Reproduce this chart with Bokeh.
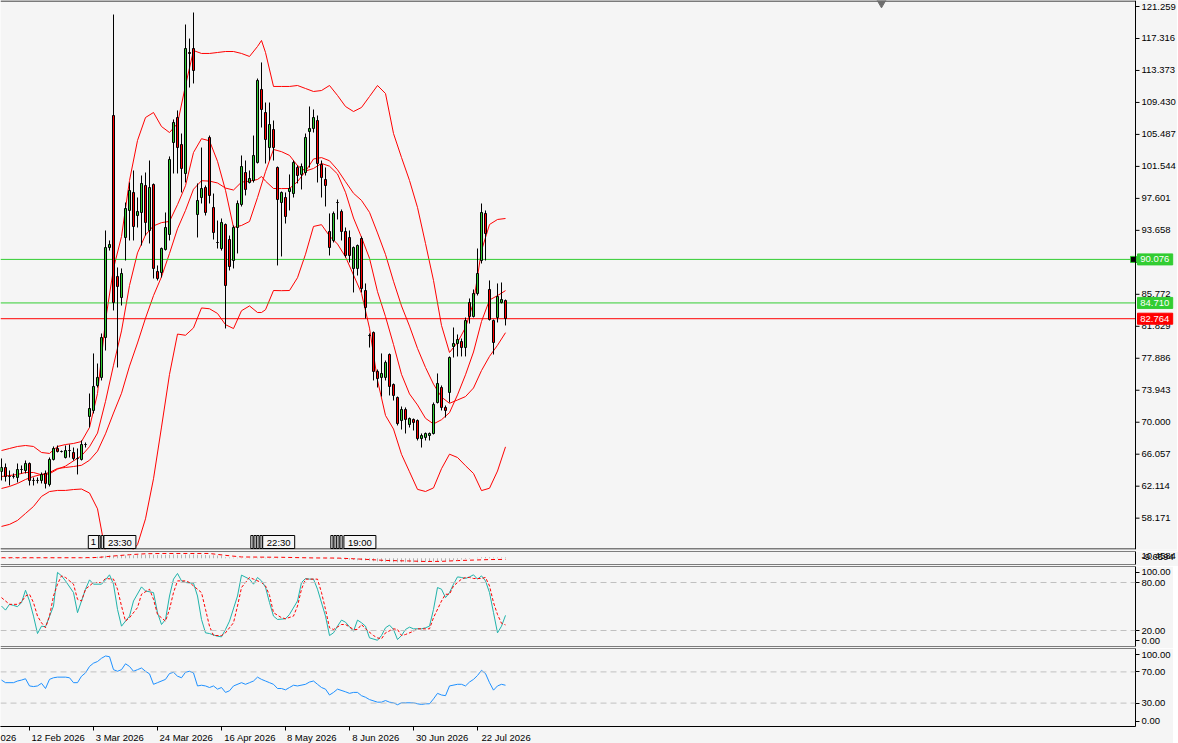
from bokeh.plotting import figure
from bokeh.models import Range1d, FixedTicker, Span, ColumnDataSource
from bokeh.layouts import column
from bokeh.embed import file_html
from bokeh.resources import INLINE
from bokeh.core.properties import value

# ---------------- candles ----------------
opens = [63.93, 64.42, 63.31, 63.31, 63.19, 64.17, 64.05, 64.91, 62.82, 62.82,
         62.82, 63.68, 62.32, 65.41, 66.76, 66.39, 65.65, 66.51, 66.27, 65.53,
         65.41, 67.25, 70.71, 71.45, 74.53, 75.52, 80.45, 91.54, 107.82, 87.97,
         85.38, 92.78, 96.11, 98.33, 95.49, 95.86, 99.19, 93.64, 99.31, 88.59,
         88.46, 91.30, 93.15, 104.49, 107.57, 104.24, 100.67, 115.59, 116.08, 95.61,
         97.71, 98.94, 105.11, 96.48, 92.16, 91.42, 94.38, 92.53, 89.94, 94.01,
         96.85, 100.79, 99.56, 99.81, 102.03, 111.03, 108.19, 103.87, 106.09, 101.41,
         97.09, 97.71, 98.45, 98.20, 101.41, 100.55, 100.79, 105.85, 106.22, 107.20,
         101.78, 99.93, 93.52, 92.41, 97.09, 95.98, 93.52, 92.78, 88.96, 88.96,
         92.65, 86.24, 80.69, 81.06, 76.26, 75.52, 75.52, 78.35, 74.65, 73.05,
         70.21, 71.57, 69.72, 70.34, 70.21, 67.99, 68.12, 68.36, 68.61, 72.43,
         74.28, 71.82, 73.67, 79.34, 79.71, 79.95, 79.21, 84.76, 83.04, 85.87,
         89.94, 95.74, 86.37, 82.54, 82.91, 84.76, 85.01]
highs = [65.53, 64.91, 64.05, 63.68, 64.91, 64.67, 65.28, 65.04, 63.19, 63.19,
         63.80, 64.05, 65.65, 67.01, 67.13, 66.51, 67.13, 67.25, 66.88, 66.76,
         67.75, 67.50, 73.54, 78.48, 77.24, 80.94, 93.64, 92.41, 120.27, 89.08,
         88.96, 97.09, 99.56, 101.04, 97.71, 100.42, 100.79, 102.27, 99.44, 89.33,
         91.54, 95.86, 102.77, 107.33, 108.44, 105.60, 119.04, 117.31, 120.52, 99.44,
         103.87, 99.19, 105.35, 98.20, 94.87, 95.12, 94.50, 93.02, 94.26, 97.34,
         102.89, 102.27, 101.04, 105.35, 112.38, 114.36, 109.42, 109.42, 107.20, 101.53,
         98.45, 98.33, 100.55, 102.27, 101.66, 101.90, 105.60, 108.93, 108.56, 107.82,
         102.27, 101.41, 95.74, 95.98, 97.46, 96.23, 94.01, 93.64, 91.67, 91.91,
         92.90, 87.11, 80.94, 81.19, 76.50, 78.48, 77.61, 78.48, 74.78, 73.17,
         71.94, 71.82, 70.58, 70.46, 70.34, 68.61, 68.73, 68.73, 72.43, 76.01,
         74.53, 72.06, 78.11, 81.68, 80.82, 80.32, 82.91, 85.26, 86.37, 91.42,
         96.97, 96.11, 87.48, 82.67, 87.11, 87.23, 85.13]
lows = [62.82, 62.69, 62.20, 63.06, 62.57, 63.68, 63.68, 62.20, 62.20, 62.45,
        62.45, 61.83, 62.08, 65.28, 66.27, 66.27, 65.53, 65.65, 65.28, 63.56,
        65.28, 66.88, 69.35, 71.08, 74.28, 75.15, 78.84, 91.17, 83.78, 76.75,
        84.39, 89.94, 92.41, 92.41, 94.01, 91.79, 93.02, 92.04, 87.72, 87.48,
        87.85, 91.17, 92.41, 100.67, 100.67, 98.33, 99.56, 111.27, 111.77, 92.78,
        96.97, 95.49, 96.97, 92.53, 91.42, 91.17, 81.56, 88.71, 88.96, 90.81,
        96.60, 97.96, 99.44, 99.56, 101.90, 106.34, 101.90, 102.27, 102.27, 89.33,
        90.44, 94.50, 96.11, 97.71, 99.44, 98.70, 100.42, 101.41, 105.72, 99.56,
        97.71, 96.60, 90.56, 92.16, 95.00, 92.41, 90.31, 89.70, 86.00, 88.09,
        86.00, 82.79, 79.21, 75.15, 74.28, 73.17, 75.15, 73.30, 72.68, 69.60,
        69.10, 68.61, 69.35, 68.98, 67.75, 66.88, 67.75, 67.75, 68.49, 72.31,
        71.45, 70.58, 72.43, 77.98, 78.11, 78.11, 78.11, 82.17, 82.91, 85.63,
        89.57, 89.94, 82.54, 78.35, 82.30, 84.64, 81.93]
closes = [64.42, 63.31, 63.31, 63.31, 64.17, 64.17, 64.91, 62.82, 62.82, 62.82,
          63.56, 62.45, 65.41, 66.76, 66.39, 66.39, 66.51, 66.51, 65.53, 65.53,
          67.25, 67.25, 71.69, 74.41, 75.52, 80.45, 91.54, 91.91, 84.76, 86.74,
          88.34, 96.35, 98.57, 94.13, 95.98, 99.44, 94.63, 98.94, 88.96, 87.72,
          91.42, 94.01, 102.40, 106.96, 103.87, 101.29, 116.08, 115.47, 113.37, 97.34,
          98.82, 95.86, 97.96, 93.39, 92.16, 94.63, 86.86, 89.20, 94.01, 96.97,
          101.53, 98.70, 100.05, 102.89, 112.14, 108.56, 104.86, 106.71, 103.87, 97.46,
          98.33, 95.37, 98.82, 102.03, 100.42, 101.53, 105.11, 106.22, 107.57, 101.90,
          100.18, 99.19, 91.54, 95.74, 97.09, 93.52, 90.56, 90.56, 91.54, 91.79,
          86.49, 84.15, 80.69, 76.26, 75.39, 76.01, 77.37, 74.41, 73.30, 69.84,
          71.57, 70.34, 70.46, 69.97, 67.99, 68.36, 68.61, 68.61, 72.19, 74.78,
          71.82, 71.45, 77.98, 79.71, 80.20, 79.21, 82.54, 83.04, 85.87, 88.34,
          95.86, 93.27, 82.67, 79.83, 85.50, 85.13, 82.79]

# ---------------- Bollinger bands (20) and fast MA (10) ----------------
band_idx = list(range(0, 65, 2)) + [65] + list(range(66, 127, 2))
bb_upper = [66.51, 66.76, 67.01, 67.13, 67.01, 66.27, 66.15, 67.01, 67.25, 67.38,
            67.62, 69.35, 73.54, 82.54, 88.96, 92.90, 99.81, 104.74, 107.57, 108.19,
            106.46, 105.72, 106.83, 111.52, 115.83, 115.47, 115.47, 115.59, 115.71, 115.71,
            115.47, 115.10, 116.33, 117.07, 115.59, 111.40, 111.40, 111.40, 111.52, 111.15,
            110.78, 110.90, 111.52, 110.29, 108.93, 108.31, 108.81, 110.16, 111.52, 110.53,
            105.60, 102.64, 99.81, 96.48, 92.04, 87.48, 81.93, 78.60, 79.83, 81.68,
            84.76, 91.17, 94.38, 95.00, 95.12]
bb_middle = [61.83, 62.08, 62.45, 62.94, 63.31, 63.56, 63.80, 64.30, 64.42, 64.54,
             64.69, 65.31, 66.43, 68.57, 71.13, 73.57, 76.92, 79.77, 82.83, 85.61,
             87.93, 90.81, 93.85, 96.12, 98.73, 99.78, 99.73, 99.50, 98.87, 98.63,
             99.61, 99.72, 99.93, 100.30, 99.73, 98.82, 98.81, 98.82, 99.67, 100.93,
             102.46, 102.63, 102.24, 101.13, 99.66, 98.23, 97.35, 95.88, 93.34, 90.68,
             87.38, 84.34, 81.85, 79.10, 76.75, 74.69, 73.10, 72.33, 72.74, 73.16,
             74.22, 76.37, 78.12, 79.49, 81.04]
bb_lower = [57.15, 57.40, 57.89, 58.75, 59.61, 60.85, 61.45, 61.59, 61.59, 61.70,
            61.76, 61.27, 59.32, 54.00, 53.00, 52.90, 53.80, 54.90, 58.09, 63.03,
            69.40, 75.90, 80.87, 80.72, 81.63, 84.09, 83.99, 83.41, 82.03, 81.55,
            83.75, 84.34, 83.53, 83.53, 83.87, 86.24, 86.22, 86.24, 87.82, 90.71,
            94.14, 94.36, 92.96, 91.97, 90.39, 88.15, 85.89, 81.60, 75.16, 70.83,
            69.16, 66.04, 63.89, 61.72, 61.46, 61.90, 64.27, 66.06, 65.65, 64.64,
            63.68, 61.57, 61.86, 63.98, 66.96]
ma_idx = list(range(0, 127, 2))
ma_fast = [63.31, 63.43, 63.56, 63.80, 63.80, 63.52, 63.64, 64.21, 64.59, 65.23,
           65.87, 66.98, 68.66, 72.57, 77.03, 81.26, 86.86, 90.88, 93.09, 94.21,
           94.61, 94.76, 96.83, 99.16, 103.26, 104.96, 104.70, 102.17, 98.59, 94.02,
           94.26, 94.75, 97.70, 100.89, 103.63, 103.36, 102.90, 101.64, 100.97, 101.29,
           101.91, 101.57, 100.61, 98.35, 95.18, 92.80, 90.21, 86.10, 83.02, 79.58,
           75.90, 73.49, 72.13, 70.48, 69.79, 70.31, 71.18, 73.37, 75.85, 78.66,
           82.42, 85.07, 85.61, 86.23]

# ---------------- price scale and levels ----------------
price_ticks = [121.259, 117.316, 113.373, 109.430, 105.487, 101.544, 97.601, 93.658,
               89.715, 85.772, 81.829, 77.886, 73.943, 70.000, 66.057, 62.114, 58.171]
price_tick_labels = ["121.259", "117.316", "113.373", "109.430", "105.487", "101.544",
                     "97.601", "93.658", "89.715", "85.772", "81.829", "77.886",
                     "73.943", "70.000", "66.057", "62.114", "58.171"]
level_prices = [90.076, 84.710, 82.764]
level_labels = ["90.076", "84.710", "82.764"]
level_colors = ["#32CD32", "#32CD32", "#FF0000"]

# ---------------- time axis ----------------
time_tick_idx = [7, 23, 39, 55, 71, 87, 103, 119]
time_labels = ["12 Feb 2026", "3 Mar 2026", "24 Mar 2026", "16 Apr 2026",
               "8 May 2026", "8 Jun 2026", "30 Jun 2026", "22 Jul 2026"]
cut_time_label = "026"       # tail of the date label cut by the left edge
cut_time_label_pos = 1.4

# ---------------- MACD-like panel ----------------
macd_hist = [-0.5, -0.6, -0.6, -0.7, -0.6, -0.6, -0.5, -0.5, -0.5, -0.4,
             -0.4, -0.4, -0.3, -0.2, -0.1, 0.0, 0.1, 0.1, 0.2, 0.2,
             0.2, 0.3, 0.8, 1.5, 2.3, 3.2, 4.0, 4.3, 4.4, 4.3,
             4.2, 4.3, 4.4, 4.5, 5.2, 5.4, 5.5, 5.5, 5.3, 5.2,
             5.3, 5.5, 5.6, 5.7, 5.6, 5.5, 5.7, 5.8, 5.7, 5.5,
             5.4, 5.0, 4.7, 4.5, 4.3, 4.0, 1.5, 1.0, 0.8, 0.6,
             0.5, 0.5, 0.4, 0.4, 0.6, 0.7, 0.6, 0.5, 0.4, 0.3,
             0.2, 0.2, 0.1, 0.1, 0.1, 0.2, 0.2, 0.2, 0.1, 0.0,
             -0.1, -0.3, -0.5, -0.8, -1.2, -1.5, -2.0, -2.5, -2.8, -3.0,
             -3.2, -3.6, -4.0, -4.6, -5.0, -5.3, -5.5, -5.8, -6.0, -6.2,
             -6.3, -6.3, -6.2, -6.1, -6.0, -5.9, -5.7, -5.5, -5.2, -4.7,
             -4.3, -4.0, -3.5, -3.0, -2.5, -2.0, -1.3, -0.7, 0.0, 0.6,
             1.5, 2.0, 1.7, 1.2, 1.2, 1.3, 1.1]
macd_sig_idx = [0, 20, 24, 28, 32, 36, 40, 52, 56, 60, 70, 78, 84, 88, 92, 96,
                102, 106, 110, 114, 118, 122, 126]
macd_sig = [0.8, 0.8, 1.2, 3.5, 5.5, 7.0, 7.4, 7.4, 4.5, 2.0, 1.5, 0.5, 0.3, -0.8,
            -2.0, -3.4, -4.2, -5.0, -4.8, -3.6, -2.8, -2.0, -1.8]
macd_scale = [-9.6594, 10.4584]
macd_scale_labels = ["-9.6594", "10.4584"]

# ---------------- stochastic ----------------
stoch_k_idx = [0, 1, 2, 3, 4, 5, 6, 7, 8, 9, 10, 11, 13, 14, 15, 16, 18, 19, 21, 22,
               23, 25, 26, 27, 28, 29, 30, 32, 33, 35, 36, 38, 39, 40, 41, 42, 43, 44,
               45, 46, 48, 49, 50, 51, 52, 54, 55, 56, 57, 59, 60, 62, 63, 64, 65, 66,
               67, 68, 69, 71, 72, 74, 75, 76, 77, 78, 79, 81, 82, 83, 84, 85, 86, 87,
               88, 89, 90, 91, 92, 94, 95, 96, 97, 98, 99, 100, 101, 102, 103, 105,
               106, 107, 108, 109, 110, 111, 112, 113, 114, 115, 116, 117, 118, 119,
               120, 121, 122, 123, 124, 125, 126]
stoch_k = [50.6, 45.5, 52.7, 51.4, 49.8, 54.8, 70.3, 56.9, 38.0, 16.2, 25.4, 24.7,
           50.6, 92.6, 88.3, 82.0, 67.4, 42.3, 71.6, 83.3, 77.9, 77.9, 83.3, 89.6,
           77.9, 46.4, 25.4, 38.0, 56.9, 74.5, 69.4, 67.4, 42.3, 27.5, 33.8, 63.1,
           84.2, 91.3, 82.0, 80.0, 79.1, 63.1, 33.8, 17.1, 16.2, 12.8, 12.1, 21.3,
           31.7, 63.1, 89.2, 84.2, 77.9, 86.3, 82.0, 74.0, 55.0, 38.0, 33.8, 34.7,
           40.1, 56.9, 80.0, 85.0, 84.2, 84.2, 71.6, 38.0, 13.7, 17.1, 25.4, 33.0,
           30.4, 24.7, 19.1, 33.0, 29.7, 25.4, 10.8, 7.8, 13.7, 23.4, 26.7, 21.3,
           8.7, 13.7, 21.3, 24.2, 22.1, 22.1, 23.4, 25.4, 46.4, 73.7, 71.6, 61.1,
           67.4, 77.9, 87.0, 86.3, 85.0, 87.0, 89.6, 84.2, 88.3, 82.0, 67.4, 42.3,
           17.1, 25.4, 38.9]
stoch_d_idx = [0, 1, 2, 4, 5, 6, 7, 8, 9, 10, 11, 12, 13, 14, 15, 16, 18, 19, 20, 21,
               23, 24, 25, 26, 28, 29, 30, 31, 32, 34, 35, 37, 38, 39, 41, 42, 43, 44,
               46, 47, 48, 50, 51, 52, 53, 55, 56, 58, 59, 60, 62, 63, 65, 66, 67, 68,
               70, 71, 73, 74, 75, 76, 78, 79, 80, 81, 82, 83, 85, 86, 88, 89, 90, 91,
               93, 94, 95, 96, 98, 99, 100, 101, 103, 104, 106, 107, 108, 110, 111, 112,
               113, 115, 116, 117, 118, 120, 121, 122, 123, 124, 125, 126]
stoch_d = [61.1, 56.9, 52.7, 52.7, 55.6, 63.1, 65.3, 54.8, 38.0, 29.7, 23.4, 38.0,
           63.1, 77.9, 88.3, 86.3, 77.9, 59.0, 56.9, 71.6, 80.0, 80.0, 80.0, 85.0,
           84.2, 71.6, 50.6, 31.7, 36.0, 48.6, 65.3, 71.6, 59.0, 40.1, 31.7, 46.4,
           67.4, 82.0, 82.0, 80.0, 75.7, 67.4, 46.4, 25.4, 13.7, 13.7, 17.1, 29.7,
           50.6, 73.7, 86.3, 84.2, 80.0, 75.7, 64.0, 42.3, 36.0, 34.7, 38.0, 50.6,
           71.6, 84.2, 84.2, 84.2, 67.4, 46.4, 23.4, 21.3, 27.5, 27.5, 21.3, 21.3,
           27.5, 22.1, 13.7, 10.8, 9.6, 17.1, 22.1, 21.3, 13.7, 15.0, 19.1, 22.1,
           22.1, 22.1, 36.0, 56.9, 65.3, 65.3, 75.7, 84.2, 86.3, 86.3, 85.0, 85.0,
           86.3, 75.7, 55.0, 40.0, 29.0, 27.0]
stoch_levels = [80, 20]
stoch_ticks = [7.5, 20, 80, 93]
stoch_tick_labels = ["0.00", "20.00", "80.00", "100.00"]

# ---------------- RSI ----------------
rsi_idx = [0, 1, 3, 4, 5, 6, 7, 8, 9, 10, 11, 12, 13, 14, 16, 17, 18, 19, 20, 21,
           22, 23, 24, 25, 26, 27, 28, 29, 30, 31, 32, 33, 34, 35, 36, 37, 38, 39,
           41, 42, 43, 44, 45, 46, 47, 48, 49, 50, 51, 52, 53, 54, 55, 56, 57, 58,
           60, 61, 62, 63, 64, 65, 66, 67, 68, 69, 70, 71, 72, 73, 74, 76, 77, 78,
           79, 80, 81, 82, 83, 84, 86, 87, 88, 89, 90, 91, 92, 94, 95, 96, 97, 98,
           99, 100, 101, 103, 104, 105, 106, 107, 108, 109, 110, 111, 112, 114, 115,
           116, 117, 118, 119, 120, 121, 122, 123, 124, 125, 126]
rsi = [59.5, 56.2, 56.2, 58.3, 59.5, 61.2, 52.0, 51.2, 52.0, 55.4, 48.7, 60.4,
       62.5, 63.3, 63.3, 62.5, 56.2, 56.2, 64.5, 68.7, 77.0, 81.2, 83.3, 87.5,
       90.4, 89.5, 72.9, 70.8, 72.9, 80.4, 77.0, 70.8, 72.9, 75.0, 70.8, 67.5,
       54.1, 56.2, 60.4, 67.9, 69.5, 64.5, 62.5, 69.5, 70.8, 68.7, 52.0, 52.9,
       52.0, 50.0, 52.0, 47.9, 50.0, 43.7, 45.8, 52.0, 56.2, 54.1, 56.2, 58.3,
       63.3, 60.4, 58.3, 56.2, 54.1, 48.7, 48.7, 47.0, 50.0, 52.9, 52.0, 54.1,
       57.0, 58.3, 54.1, 50.0, 47.9, 40.4, 43.7, 47.9, 44.5, 42.5, 43.7, 43.7,
       39.5, 37.5, 34.5, 31.2, 31.2, 33.3, 31.2, 30.4, 27.9, 30.4, 30.4, 30.4,
       29.1, 28.3, 29.1, 29.1, 35.4, 42.5, 40.4, 39.5, 52.0, 54.1, 54.1, 52.0,
       57.0, 60.4, 65.4, 72.0, 67.9, 56.2, 46.6, 52.0, 54.1, 52.9]
rsi_levels = [70, 30]
rsi_ticks = [6.8, 30, 70, 92.3]
rsi_tick_labels = ["0.00", "30.00", "70.00", "100.00"]

# ---------------- chart event markers ----------------
event_idx = [23.0, 29.6, 69.3, 89.6]
event_text = ["1", "23:30", "22:30", "19:00"]
event_stub_idx = [24.4, 25.2, 62.6, 63.4, 64.1, 64.9, 82.6, 83.4, 84.1, 84.9]
shift_marker_idx = 220

# ---------------- styling / layout ----------------
BG = "#F5F5F5"
GREEN = "#32CD32"
RED = "#FF0000"
FONT = "Liberation Sans"
FS = "9.5px"
FW = 1135            # plot area width of every panel (px)
MFW = 1177           # main panel frame also hosts its price scale
X0 = -0.25           # 4 px per bar
XA = X0 + FW / 4.0   # x of the price-scale line
MAIN_H, P1_H, P2_H, P3_H = 549, 13, 80, 78
Y1 = 122.0
PPU = 8.11           # px per price unit
Y0 = Y1 - MAIN_H / PPU


def style_axis(ax):
    ax.axis_line_color = "black"
    ax.major_tick_line_color = "black"
    ax.major_tick_out = 4
    ax.major_tick_in = 0
    ax.minor_tick_line_color = None
    ax.major_label_text_font = FONT
    ax.major_label_text_font_size = FS
    ax.major_label_text_color = "black"
    ax.major_label_standoff = 2


def make_panel(fh, y0, y1, gap, with_time=False):
    p = figure(frame_width=FW, frame_height=fh, x_range=Range1d(X0, X0 + FW / 4.0),
               y_range=Range1d(y0, y1), output_backend="svg", toolbar_location=None,
               x_axis_location="below" if with_time else None, y_axis_location="right",
               min_border_left=0, min_border_right=0, min_border_top=0,
               min_border_bottom=gap, background_fill_color=BG, border_fill_color=BG,
               outline_line_color=None)
    p.xgrid.grid_line_color = None
    p.ygrid.grid_line_color = None
    style_axis(p.yaxis[0])
    p.add_layout(Span(location=y1, dimension="width", line_color="black", line_width=1))
    p.add_layout(Span(location=y0, dimension="width", line_color="black", line_width=1))
    return p


# ---- main price panel (frame includes the price scale strip) ----
pm = figure(frame_width=MFW, frame_height=MAIN_H, x_range=Range1d(X0, X0 + MFW / 4.0),
            y_range=Range1d(Y0, Y1), output_backend="svg", toolbar_location=None,
            x_axis_location=None, y_axis_location=None,
            min_border_left=0, min_border_right=0, min_border_top=0, min_border_bottom=2,
            background_fill_color=BG, border_fill_color=BG, outline_line_color=None)
pm.xgrid.grid_line_color = None
pm.ygrid.grid_line_color = None

idx = list(range(len(closes)))
src = ColumnDataSource(dict(
    x=idx, h=highs, l=lows,
    top=[max(o, c) for o, c in zip(opens, closes)],
    bottom=[min(o, c) for o, c in zip(opens, closes)],
    color=[GREEN if c >= o else RED for o, c in zip(opens, closes)],
))

pm.line(band_idx, bb_upper, line_color=RED, line_width=1)
pm.line(band_idx, bb_middle, line_color=RED, line_width=1)
pm.line(band_idx, bb_lower, line_color=RED, line_width=1)
pm.line(ma_idx, ma_fast, line_color=RED, line_width=1)

pm.segment(x0=[X0] * 3, y0=level_prices, x1=[XA] * 3, y1=level_prices,
           line_color=level_colors, line_width=1)

pm.segment(x0="x", y0="l", x1="x", y1="h", source=src, line_color="black", line_width=1)
pm.vbar(x="x", width=0.5, top="top", bottom="bottom", source=src,
        fill_color="color", line_color="black", line_width=1)

# frame border (top / bottom) and price-scale line
half = 0.5 / PPU
pm.segment(x0=[X0, X0], y0=[Y1 - half, Y0 + half], x1=[XA, XA], y1=[Y1 - half, Y0 + half],
           line_color="black", line_width=1)
pm.add_layout(Span(location=XA, dimension="height", line_color="black", line_width=1))

# price scale ticks and labels
n_t = len(price_ticks)
pm.segment(x0=[XA] * n_t, y0=price_ticks, x1=[XA + 1.0] * n_t, y1=price_ticks,
           line_color="black", line_width=1)
pm.text(x=[XA + 1.5] * n_t, y=price_ticks, text=price_tick_labels,
        text_font=value(FONT), text_font_size=FS, text_align="left",
        text_baseline="middle", text_color="black")

# current level tags on the price scale
pm.rect(x=[XA + 4.9] * 3, y=level_prices, width=8.8, height=11, height_units="screen",
        fill_color=level_colors, line_color=level_colors)
pm.text(x=[XA + 1.2] * 3, y=level_prices, text=level_labels, text_font=value(FONT),
        text_font_size=FS, text_align="left", text_baseline="middle", text_color="white")
pm.scatter(x=[XA - 0.5], y=[level_prices[0]], marker="square", size=6,
           fill_color="black", line_color=GREEN)

# chart-shift marker
pm.scatter(x=[shift_marker_idx], y=[Y1 - 1.0 / PPU], marker="inverted_triangle", size=11,
           fill_color="#6E6E6E", line_color="#6E6E6E")

# event markers at the bottom of the price panel
ev_y = Y0 + 7.5 / PPU
pm.rect(x=event_stub_idx, y=[ev_y] * len(event_stub_idx), width=0.55, height=13,
        height_units="screen", fill_color=BG, line_color="black", line_width=1)
pm.rect(x=event_idx, y=[ev_y] * len(event_idx),
        width=[(len(t) * 5.4 + 5) / 4.0 for t in event_text], height=13,
        height_units="screen", fill_color=BG, line_color="black", line_width=1)
pm.text(x=event_idx, y=[ev_y] * len(event_idx), text=event_text,
        text_font=value(FONT), text_font_size=FS, text_align="center",
        text_baseline="middle", text_color="black")

# ---- MACD panel ----
p1 = make_panel(P1_H, macd_scale[0], macd_scale[1], 2)
p1.yaxis[0].ticker = FixedTicker(ticks=[2.7, 2.8])
p1.yaxis[0].major_label_overrides = {2.7: macd_scale_labels[0], 2.8: macd_scale_labels[1]}
p1.yaxis[0].major_tick_line_color = None
p1.vbar(x=idx, width=0.25, top=macd_hist, bottom=0, fill_color="#B4B4B4", line_color=None)
p1.line(macd_sig_idx, macd_sig, line_color=RED, line_width=1, line_dash="4 3")

# ---- Stochastic panel ----
p2 = make_panel(P2_H, 0, 100, 2)
p2.yaxis[0].ticker = FixedTicker(ticks=stoch_ticks)
p2.yaxis[0].major_label_overrides = dict(zip(stoch_ticks, stoch_tick_labels))
for lv in stoch_levels:
    p2.add_layout(Span(location=lv, dimension="width", line_color="#C0C0C0",
                       line_width=1, line_dash="6 4"))
p2.line(stoch_k_idx, stoch_k, line_color="#20B2AA", line_width=1)
p2.line(stoch_d_idx, stoch_d, line_color=RED, line_width=1, line_dash="3 2")

# ---- RSI panel with time axis ----
p3 = make_panel(P3_H, 0, 100, 0, with_time=True)
p3.yaxis[0].ticker = FixedTicker(ticks=rsi_ticks)
p3.yaxis[0].major_label_overrides = dict(zip(rsi_ticks, rsi_tick_labels))
for lv in rsi_levels:
    p3.add_layout(Span(location=lv, dimension="width", line_color="#C0C0C0",
                       line_width=1, line_dash="6 4"))
p3.line(rsi_idx, rsi, line_color="#1E90FF", line_width=1)

centers = [round(t + (4.75 * len(s) / 2.0 + 2.5) / 4.0, 3)
           for t, s in zip(time_tick_idx, time_labels)]
label_map = dict(zip(centers, time_labels))
label_map[cut_time_label_pos] = cut_time_label
xa = p3.xaxis[0]
xa.ticker = FixedTicker(ticks=[cut_time_label_pos] + centers, minor_ticks=time_tick_idx)
xa.major_label_overrides = label_map
xa.major_tick_line_color = None
xa.major_tick_out = 2
xa.major_tick_in = 0
xa.minor_tick_line_color = "black"
xa.minor_tick_out = 4
xa.minor_tick_in = 0
xa.axis_line_color = "black"
xa.major_label_standoff = 1
xa.major_label_text_font = FONT
xa.major_label_text_font_size = FS
xa.major_label_text_color = "black"

layout = column(pm, p1, p2, p3, spacing=0)
open("out.html", "w").write(file_html(layout, INLINE))
